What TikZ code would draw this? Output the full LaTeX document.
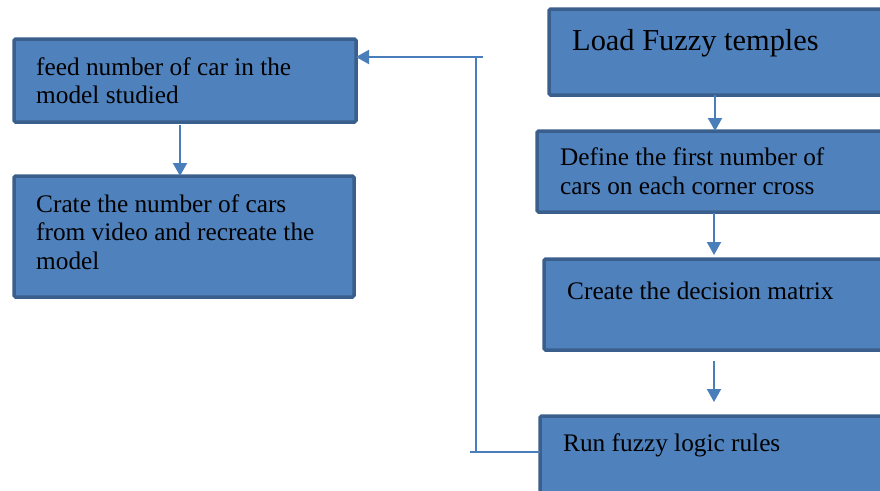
\documentclass[tikz,border=0pt]{standalone}
\usepackage{fontspec}
\setmainfont{Liberation Serif}
\usetikzlibrary{arrows.meta}
\definecolor{boxfill}{HTML}{4F81BD}
\definecolor{boxline}{HTML}{3A5F8C}
\definecolor{arrcol}{HTML}{4A7EBB}
\tikzset{
  stepbox/.style={draw=boxline, fill=boxfill, line width=3.5pt, rounded corners=1.5pt, inner sep=0pt, outer sep=0pt},
  txt/.style={anchor=base west, inner sep=0pt, font=\fontsize{25.3}{28}\selectfont},
  bigtxt/.style={anchor=base west, inner sep=0pt, font=\fontsize{30.4}{34}\selectfont},
  arr/.style={draw=arrcol, line width=2pt, -{Triangle[width=14pt,length=13pt]}},
  fbline/.style={draw=arrcol, line width=2pt}
}
\begin{document}
\begin{tikzpicture}[x=1pt,y=-1pt]
\useasboundingbox (0,0) rectangle (880,490);
% boxes
\node[stepbox, minimum width=342pt, minimum height=83pt] (feed) at (185,80.5) {};
\node[stepbox, minimum width=340pt, minimum height=121pt] (crate) at (184,236.5) {};
\node[stepbox, minimum width=351pt, minimum height=86pt] (load) at (724.5,52) {};
\node[stepbox, minimum width=363pt, minimum height=81pt] (define) at (718.5,171.5) {};
\node[stepbox, minimum width=356pt, minimum height=91pt] (decision) at (722,304.5) {};
\node[stepbox, minimum width=360pt, minimum height=94pt] (run) at (720,463) {};
% texts
\node[txt] (t1a) at (36,75) {feed number of car in the};
\node[txt] (t1b) at (36,103) {model studied};
\node[txt] (t2a) at (36,212) {Crate the number of cars};
\node[txt] (t2b) at (36,240.5) {from video and recreate the};
\node[txt] (t2c) at (36,269) {model};
\node[bigtxt] (t3) at (572,50) {Load Fuzzy temples};
\node[txt] (t4a) at (560,165) {Define the first number of};
\node[txt] (t4b) at (560,194) {cars on each corner cross};
\node[txt] (t5) at (567,299) {Create the decision matrix};
\node[txt] (t6) at (563,451) {Run fuzzy logic rules};
% arrows
\draw[arr, shorten <=3pt] ([xshift=-5pt]feed.south) -- ([xshift=-5pt]feed.south |- crate.north);
\draw[arr] ([xshift=-9.5pt]load.south) -- ([xshift=-9.5pt]load.south |- define.north);
\draw[arr, shorten <=1pt, shorten >=4pt] ([xshift=-4.5pt]define.south) -- ([xshift=-4.5pt]define.south |- decision.north);
\draw[arr, shorten <=11pt, shorten >=14pt] ([xshift=-8pt]decision.south) -- ([xshift=-8pt]decision.south |- run.north);
% feedback
\coordinate (fbA) at (470,452);
\coordinate (fbB) at (476,452);
\coordinate (fbC) at (476,57);
\coordinate (fbD) at (483,57);
\draw[fbline] (run.west |- fbA) -- (fbA);
\draw[fbline] (fbB) -- (fbC);
\draw[arr] (fbD) -- (feed.east |- fbD);
\end{tikzpicture}
\end{document}
